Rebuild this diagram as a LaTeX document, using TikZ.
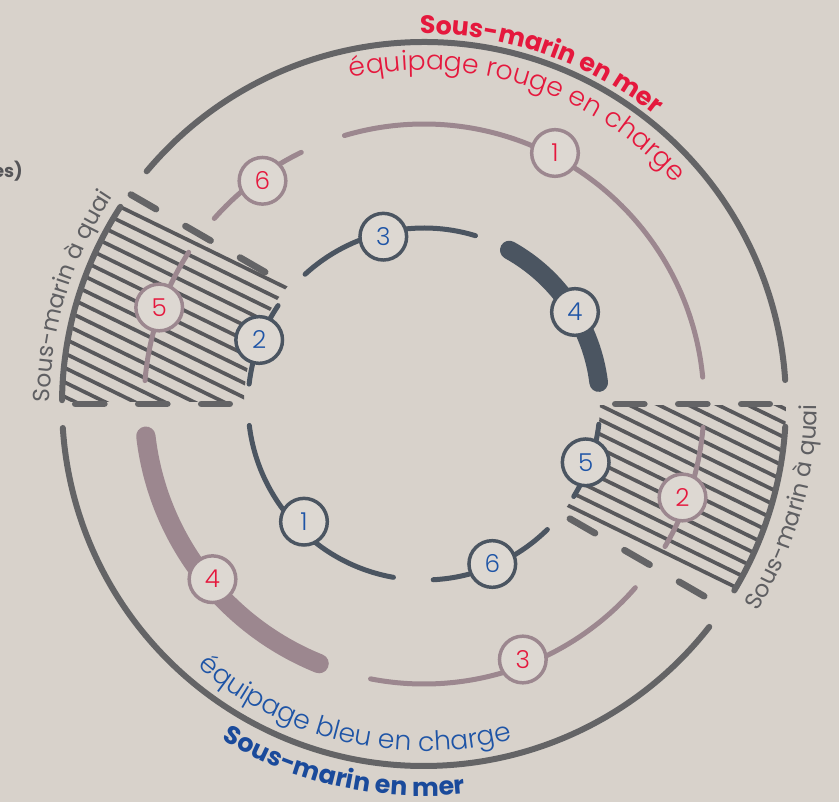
\documentclass[tikz,border=0pt]{standalone}
\usepackage{fontspec}
\setmainfont{Poppins}
\newfontfamily\fin{Poppins Light}
\usetikzlibrary{decorations.text}

\definecolor{fond}{RGB}{216,210,203}
\definecolor{rond}{RGB}{221,216,210}
\definecolor{gris}{RGB}{100,100,102}
\definecolor{hachgris}{RGB}{88,88,91}
\definecolor{mauve}{RGB}{156,135,143}
\definecolor{ardoise}{RGB}{75,85,97}
\definecolor{rougetxt}{RGB}{229,24,61}
\definecolor{bleutxt}{RGB}{30,84,166}
\definecolor{bleufonce}{RGB}{26,74,155}
\definecolor{grisfonce}{RGB}{85,85,88}
\definecolor{quaigris}{RGB}{95,95,98}

\tikzset{
    cercle/.style={line width=4.5pt,draw=gris,line cap=round},
    voieB/.style={line width=3.75pt,draw=ardoise,line cap=round},
    voieR/.style={line width=3.75pt,draw=mauve,line cap=round},
    etape/.style={circle,draw,line width=2.6pt,fill=rond,minimum size=35pt,inner sep=0pt,font=\fin\fontsize{18.5}{18.5}\selectfont},
    etapeB/.style={etape,draw=ardoise,text=bleutxt},
    etapeR/.style={etape,draw=mauve,text=rougetxt},
    hachure/.style={line width=2.8pt,draw=hachgris},
    bord/.style={line width=5pt,draw=gris,line cap=round,dash pattern=on 21.75pt off 25.5pt}
}

\begin{document}
\begin{tikzpicture}[x=0.75pt,y=0.75pt]
\fill[fond] (-424,-398) rectangle (415,404);
\useasboundingbox (-424,-398) rectangle (415,404);

% sous-marin a quai, gauche
\begin{scope}
    \clip (-400,2) rectangle (0,420);
    \clip[rotate=-26] (-700,-700) rectangle (700,47);
    \clip (180:362) arc[start angle=180,end angle=110,radius=362] -- (110:180) arc[start angle=110,end angle=180,radius=180] -- cycle;
    \foreach \k in {0,...,16}
        \draw[hachure,rotate=-26] (-700,{44-13*\k}) -- (700,{44-13*\k});
\end{scope}
% sous-marin a quai, droite
\begin{scope}
    \clip (0,-2) rectangle (400,-420);
    \clip[rotate=-26] (-700,-31) rectangle (700,700);
    \clip (0:362) arc[start angle=0,end angle=-70,radius=362] -- (-70:176) arc[start angle=-70,end angle=0,radius=176] -- cycle;
    \foreach \k in {0,...,16}
        \draw[hachure,rotate=-26] (-700,{-28+13*\k}) -- (700,{-28+13*\k});
\end{scope}
\draw[bord] (-348.7,0) -- (-194.3,0);
\draw[bord] (-293.1,209.4) -- ++(-30:155);
\draw[bord] (191.3,0) -- (345.7,0);
\draw[bord] (145.9,-114.7) -- ++(-30:155);

% grand cercle
\draw[cercle] (140:362) arc[start angle=140,end angle=3.8,radius=362];
\draw[cercle] (183.8:362) arc[start angle=183.8,end angle=322,radius=362];
\draw[cercle] (179.4:362) arc[start angle=179.4,end angle=147,radius=362];
\draw[cercle] (-3.6:362) arc[start angle=-3.6,end angle=-31,radius=362];

% equipage rouge
\foreach \a/\b in {106.5/5.5,116/138.5,147.2/175.2,259/319,329.4/355.2}
    \draw[voieR] (\a:280) arc[start angle=\a,end angle=\b,radius=280];
\draw[voieR,line width=14.5pt] (186.6:280) arc[start angle=186.6,end angle=248,radius=280];

% equipage bleu
\foreach \a/\b in {187/260,273/314.5,328.3/353.4,73/132.5,146/173.5}
    \draw[voieB] (\a:176) arc[start angle=\a,end angle=\b,radius=176];
\draw[voieB,line width=14pt] (61:176) arc[start angle=61,end angle=7,radius=176];

\node[etapeB] (b1) at (-120,-117.7) {1};
\node[etapeB] (b2) at (-164.8,64) {2};
\node[etapeB] (b3) at (-40.7,167.3) {3};
\node[etapeB] (b4) at (151,92) {4};
\node[etapeB] (b5) at (161.7,-58.3) {5};
\node[etapeB] (b6) at (68.3,-160) {6};

\node[etapeR] (r1) at (131,251) {1};
\node[etapeR] (r2) at (258.5,-93.5) {2};
\node[etapeR] (r3) at (98.8,-255.5) {3};
\node[etapeR] (r4) at (-211.5,-175.2) {4};
\node[etapeR] (r5) at (-264.8,96.5) {5};
\node[etapeR] (r6) at (-161.5,223.2) {6};

% textes
\path[decorate,decoration={text along path,text align=center,text color=rougetxt,
    text={|\bfseries\fontsize{19}{23}\selectfont|Sous-marin en mer}}]
    (101:370) arc[start angle=101,end angle=41,radius=370];
\path[decorate,decoration={text along path,text align=center,text color=rougetxt,
    text={|\fin\fontsize{20}{24}\selectfont|équipage rouge en charge}}]
    (104:334) arc[start angle=104,end angle=40,radius=334];
\path[decorate,decoration={text along path,text align=center,text color=bleutxt,
    text={|\fin\fontsize{20}{24}\selectfont|équipage bleu en charge}}]
    (225:347) arc[start angle=225,end angle=289,radius=347];
\path[decorate,decoration={text along path,text align=center,text color=bleufonce,
    text={|\bfseries\fontsize{19}{23}\selectfont|Sous-marin en mer}}]
    (227:392) arc[start angle=227,end angle=288,radius=392];
\path[decorate,decoration={text along path,text align=center,text color=quaigris,
    text={|\fontsize{17.5}{21}\selectfont|Sous-marin à quai}}]
    (193:374) arc[start angle=193,end angle=133,radius=374];
\path[decorate,decoration={text along path,text align=center,text color=quaigris,
    text={|\fontsize{17.5}{21}\selectfont|Sous-marin à quai}}]
    (-46:393) arc[start angle=-46,end angle=14,radius=393];

\node[anchor=base east,inner sep=0pt,text=grisfonce,font=\bfseries\fontsize{13.5}{16}\selectfont] (legende) at (-401,226) {es)};
\end{tikzpicture}
\end{document}
